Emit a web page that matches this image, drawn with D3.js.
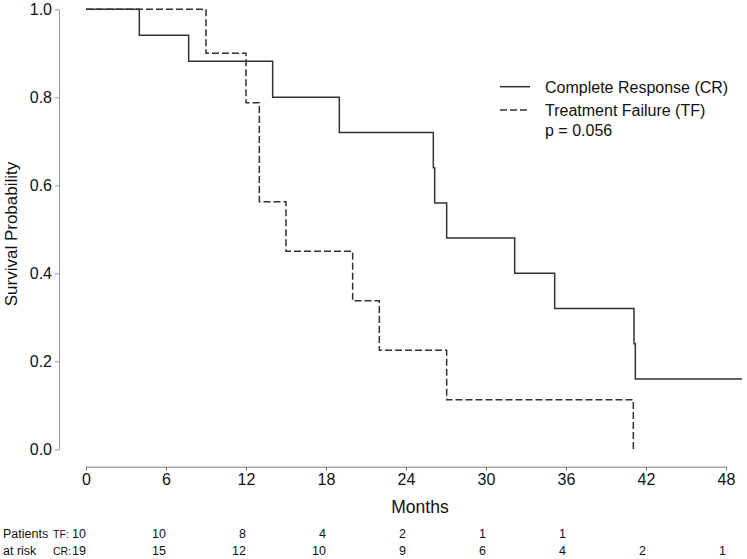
<!DOCTYPE html>
<html>
<head>
<meta charset="utf-8">
<script src="https://cdn.jsdelivr.net/npm/d3@7"></script>
<style>
  body { margin: 0; background: #fff; }
  svg text { font-family: "Liberation Sans", Arial, Helvetica, sans-serif; fill: #111; }
</style>
</head>
<body>
<script>
// Kaplan-Meier step data
var crTime = [0, 4.0, 7.7, 14.0, 19.0, 26.05, 26.15, 27.05, 32.15, 35.15, 41.1, 41.2, 49.2]
var crSurv = [1.0, 0.941, 0.882, 0.80, 0.72, 0.64, 0.56, 0.48, 0.40, 0.32, 0.24, 0.16, 0.16]
var tfTime = [0, 9.0, 12.0, 13.0, 15.0, 20.0, 22.0, 27.05, 41.05]
var tfSurv = [1.0, 0.9, 0.7875, 0.5625, 0.45, 0.3375, 0.225, 0.1125, 0.0]

// numbers at risk
var riskMonths = [0, 6, 12, 18, 24, 30, 36, 42, 48]
var tfRisk = [10, 10, 8, 4, 2, 1, 1]
var crRisk = [19, 15, 12, 10, 9, 6, 4, 2, 1]

var xTicks = [0, 6, 12, 18, 24, 30, 36, 42, 48]
var yTicks = [0.0, 0.2, 0.4, 0.6, 0.8, 1.0]

var legendLabels = ["Complete Response (CR)", "Treatment Failure (TF)"]
var pText = "p = 0.056"

function main() {
    var width = 747, height = 559
    var axisColor = "#999"
    var lineColor = "#333"

    var svg = d3.select("body").append("svg")
        .attr("width", width)
        .attr("height", height)

    // scales
    var x = d3.scaleLinear().domain([0, 48]).range([86, 726])
    var y = d3.scaleLinear().domain([0, 1]).range([449.3, 9.3])

    // y axis
    var yAxis = svg.append("g")
        .attr("transform", "translate(59,0)")
        .call(d3.axisLeft(y).tickValues(yTicks).tickFormat(d3.format(".1f")).tickSize(4).tickSizeOuter(0))
    yAxis.select(".domain").attr("stroke", axisColor)
    yAxis.selectAll(".tick line").attr("stroke", axisColor)
    yAxis.selectAll(".tick text")
        .attr("x", -7).attr("dy", "0.35em")
        .style("font-size", "16px").style("font-family", "'Liberation Sans', Arial, sans-serif")
        .attr("fill", "#111")

    // x axis
    var xAxis = svg.append("g")
        .attr("transform", "translate(0,466.7)")
        .call(d3.axisBottom(x).tickValues(xTicks).tickSize(4).tickSizeOuter(0))
    xAxis.select(".domain").attr("stroke", "#777")
    xAxis.selectAll(".tick line").attr("stroke", "#777")
    xAxis.selectAll(".tick text")
        .attr("y", 18.5).attr("dy", 0)
        .style("font-size", "16px").style("font-family", "'Liberation Sans', Arial, sans-serif")
        .attr("fill", "#111")

    // axis titles
    svg.append("text")
        .attr("x", 420).attr("y", 513)
        .attr("text-anchor", "middle")
        .style("font-size", "17.5px")
        .text("Months")

    svg.append("text")
        .attr("transform", "translate(17,234) rotate(-90)")
        .attr("text-anchor", "middle")
        .style("font-size", "17px")
        .text("Survival Probability")

    // survival curves
    var line = d3.line()
        .x(function(d) { return x(d[0]) })
        .y(function(d) { return y(d[1]) })
        .curve(d3.curveStepAfter)

    svg.append("path")
        .datum(d3.zip(crTime, crSurv))
        .attr("d", line)
        .attr("fill", "none")
        .attr("stroke", lineColor)
        .attr("stroke-width", 1.5)

    svg.append("path")
        .datum(d3.zip(tfTime, tfSurv))
        .attr("d", line)
        .attr("fill", "none")
        .attr("stroke", lineColor)
        .attr("stroke-width", 1.5)
        .attr("stroke-dasharray", "7,3")

    // legend
    var legend = svg.append("g")
    var legendY = [86.7, 110]
    legendLabels.forEach(function(lab, i) {
        legend.append("line")
            .attr("x1", 500).attr("x2", 530)
            .attr("y1", legendY[i]).attr("y2", legendY[i])
            .attr("stroke", lineColor)
            .attr("stroke-width", 1.5)
            .attr("stroke-dasharray", i == 1 ? "7,3" : null)
        legend.append("text")
            .attr("x", 545).attr("y", legendY[i] + 6)
            .style("font-size", "16px")
            .text(lab)
    })
    legend.append("text")
        .attr("x", 545).attr("y", 136)
        .style("font-size", "16px")
        .text(pText)

    // numbers at risk table
    var rowY = [537.5, 554.5]
    svg.append("text").attr("x", 3).attr("y", rowY[0]).style("font-size", "12.5px").text("Patients")
    svg.append("text").attr("x", 3).attr("y", rowY[1]).style("font-size", "12.5px").text("at risk")
    svg.append("text").attr("x", 53).attr("y", rowY[0]).style("font-size", "10.5px").text("TF:")
    svg.append("text").attr("x", 53).attr("y", rowY[1]).style("font-size", "10.5px").text("CR:")

    svg.selectAll(".risk-tf")
        .data(tfRisk)
        .enter().append("text")
        .attr("class", "risk-tf")
        .attr("x", function(d, i) { return x(riskMonths[i]) })
        .attr("y", rowY[0])
        .attr("text-anchor", "end")
        .style("font-size", "12.5px")
        .text(function(d) { return d })

    svg.selectAll(".risk-cr")
        .data(crRisk)
        .enter().append("text")
        .attr("class", "risk-cr")
        .attr("x", function(d, i) { return x(riskMonths[i]) })
        .attr("y", rowY[1])
        .attr("text-anchor", "end")
        .style("font-size", "12.5px")
        .text(function(d) { return d })
}
main()
</script>
</body>
</html>
